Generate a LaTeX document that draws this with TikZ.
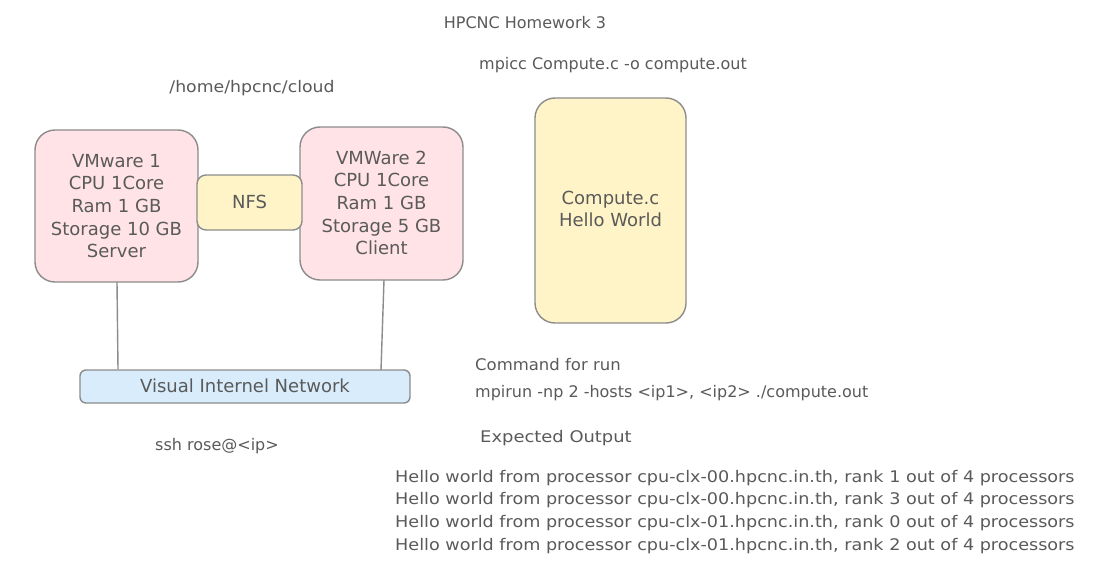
\documentclass[tikz,border=0pt]{standalone}
\usepackage{fontspec}
\usepackage{graphicx}
\setmainfont{DejaVu Sans}
\newcommand\hsc[2]{\scalebox{#1}[1]{#2}}
\definecolor{txt}{HTML}{5A5A5A}
\definecolor{edge}{HTML}{8C8C8C}
\definecolor{pinkf}{HTML}{FFE3E6}
\definecolor{yellowf}{HTML}{FFF4C8}
\definecolor{bluef}{HTML}{D8ECFB}
\begin{document}
\begin{tikzpicture}[x=1pt,y=-1pt,
  lbl/.style={text=txt,font=\fontsize{16}{18}\selectfont,inner sep=0pt},
  boxtxt/.style={text=txt,font=\fontsize{18}{22.7}\selectfont,align=center,inner sep=0pt},
  shape box/.style={draw=edge,line width=1.4pt,rounded corners=20pt},
  link/.style={draw=edge,line width=1.4pt}]
\useasboundingbox (0,0) rectangle (1098,578);
\fill[white] (0,0) rectangle (1098,578);
% title
\node[lbl] (title) at (525,23) {HPCNC Homework 3};
\node[lbl,anchor=west] (mpicc) at (479,65) {mpicc Compute.c -o compute.out};
\node[lbl] (path) at (252,88) {\hsc{1.08}{/home/hpcnc/cloud}};
% boxes
\draw[shape box,fill=pinkf] (35,130) rectangle (198,282);
\node[boxtxt] (vm1) at (116.5,206) {VMware 1\\CPU 1Core\\Ram 1 GB\\Storage 10 GB\\Server};
\draw[shape box,fill=pinkf] (300,127) rectangle (463,280);
\node[boxtxt] (vm2) at (381.5,203) {VMWare 2\\CPU 1Core\\Ram 1 GB\\Storage 5 GB\\Client};
\draw[shape box,rounded corners=9pt,fill=yellowf] (197,175) rectangle (302,230);
\node[boxtxt] (nfs) at (249.5,202) {NFS};
\draw[shape box,fill=yellowf] (535,98) rectangle (686,323);
\node[boxtxt] (comp) at (610.5,209) {Compute.c\\Hello World};
\draw[shape box,rounded corners=6pt,fill=bluef] (80,370) rectangle (410,403);
\node[boxtxt] (net) at (245,386) {Visual Internel Network};
\coordinate (vm1b) at (117,282);
\coordinate (vm2b) at (384,280);
\coordinate (net1) at (118,369);
\coordinate (net2) at (381,370);
\draw[link] (vm1b) -- (net1);
\draw[link] (vm2b) -- (net2);
% texts
\node[lbl] (ssh) at (217,446) {ssh rose@<ip>};
\node[lbl,anchor=west] (cmd) at (475,365) {\hsc{1.03}{Command for run}};
\node[lbl,anchor=west] (run) at (475,393) {mpirun -np 2 -hosts <ip1>, <ip2> ./compute.out};
\node[lbl,anchor=west] (exp) at (480,438) {\hsc{1.12}{Expected Output}};
\node[lbl,anchor=west] (h1) at (395,478) {\hsc{1.1}{Hello world from processor cpu-clx-00.hpcnc.in.th, rank 1 out of 4 processors}};
\node[lbl,anchor=west] (h2) at (395,500) {\hsc{1.1}{Hello world from processor cpu-clx-00.hpcnc.in.th, rank 3 out of 4 processors}};
\node[lbl,anchor=west] (h3) at (395,523) {\hsc{1.1}{Hello world from processor cpu-clx-01.hpcnc.in.th, rank 0 out of 4 processors}};
\node[lbl,anchor=west] (h4) at (395,546) {\hsc{1.1}{Hello world from processor cpu-clx-01.hpcnc.in.th, rank 2 out of 4 processors}};
\end{tikzpicture}
\end{document}
